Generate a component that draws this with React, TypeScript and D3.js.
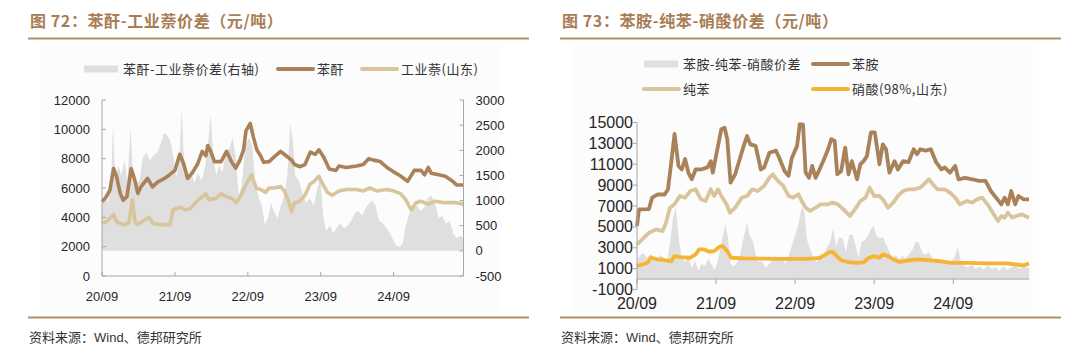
import React, { useEffect, useRef } from "react";
import * as d3 from "d3";

// x axis: months counted from 2020-09
const xTickMonths = [0, 12, 24, 36, 48];
const xTickLabels = ["20/09", "21/09", "22/09", "23/09", "24/09"];
const lastMonth = 59.5;

// Chart 72: 苯酐 / 工业萘(山东) / 价差(右轴)
const phthalic: [number, number][] = [
  [0, 5060], [0.7, 5400], [1.3, 5850], [1.9, 7330], [2.4, 6770], [3.0, 5630], [3.5, 5170],
  [4.1, 5400], [4.8, 7330], [5.4, 6540], [5.9, 5630], [6.4, 6080], [7.5, 6650], [8.3, 6080],
  [9.2, 6420], [10.3, 6650], [11.4, 7000], [12, 7200], [12.8, 8300], [13.4, 7700], [14.1, 6650],
  [14.8, 7000], [15.7, 7600], [16.5, 8500], [17.1, 8200], [17.4, 8900], [17.9, 8500], [18.5, 7800],
  [19.6, 7800], [20.5, 8500], [21.3, 7800], [22.0, 7350], [22.7, 7900], [23.3, 8600], [23.7, 9900],
  [24.4, 10400], [24.9, 9500], [25.5, 8600], [26.1, 8200], [26.6, 7750], [27.5, 7800], [28.3, 8100],
  [29.4, 8500], [30.3, 8200], [31.2, 7900], [31.7, 7600], [32.6, 7450], [33.4, 7600], [34.3, 8450],
  [35.1, 8300], [35.7, 8600], [36.5, 8100], [37.4, 7300], [38.5, 7200], [39.0, 7500], [40.2, 7400],
  [41.9, 7500], [43.0, 7600], [43.9, 8000], [44.7, 7900], [45.8, 7800], [46.9, 7400], [48.0, 7100],
  [49.2, 6800], [50.3, 6450], [51.4, 7200], [52.5, 7200], [53.1, 6900], [53.7, 7400], [54.2, 7000],
  [55.4, 6900], [56.5, 6800], [57.6, 6500], [58.4, 6200], [59.5, 6200],
];
const naphthalene: [number, number][] = [
  [0, 3600], [0.7, 3700], [1.9, 4200], [2.4, 3700], [3.5, 3500], [4.4, 3600], [5.0, 5200],
  [5.4, 3800], [5.8, 3500], [6.9, 3800], [7.8, 4000], [8.3, 3600], [9.7, 3500], [11.2, 3500],
  [11.7, 4500], [12.8, 4700], [13.7, 4500], [14.5, 4600], [15.4, 5000], [16.2, 5300], [17.1, 5600],
  [17.6, 5200], [18.8, 5300], [19.6, 5600], [20.5, 5400], [21.3, 5300], [22.1, 5000], [23.0, 5600],
  [23.8, 6300], [24.6, 6900], [25.4, 6000], [26.1, 5900], [26.9, 5700], [27.5, 6000], [28.3, 6000],
  [29.4, 6100], [30.0, 5800], [30.8, 5000], [31.2, 4400], [31.7, 5000], [32.6, 5100], [33.4, 5500],
  [34.3, 6300], [34.8, 6400], [35.7, 6800], [36.3, 6300], [37.1, 5700], [37.9, 5500], [39.0, 5800],
  [40.2, 5900], [41.9, 5900], [43.0, 5800], [44.1, 6000], [45.2, 5800], [46.9, 5900], [48.0, 5800],
  [49.2, 5600], [50.0, 5200], [50.9, 4500], [51.7, 5000], [52.5, 5100], [53.7, 4900], [54.8, 5100],
  [56.5, 5000], [58.2, 5000], [59.5, 4900],
];
const phthalicSpread: [number, number][] = [
  [0, 900], [0.5, 1150], [1, 950], [1.5, 1300], [1.8, 2500], [2.2, 1400], [2.7, 1700], [3.2, 1500],
  [3.7, 1800], [4.2, 1400], [4.7, 2440], [5.1, 1500], [5.6, 1350], [6.2, 1400], [6.7, 1850],
  [7.3, 1950], [7.9, 1800], [8.5, 1900], [9.1, 1950], [9.7, 2150], [10.2, 2350], [10.7, 2300],
  [11.2, 2200], [11.7, 1900], [12.3, 1450], [12.8, 2000], [13.1, 2830], [13.5, 1800], [14, 1400],
  [14.6, 1600], [15.2, 1350], [15.8, 1550], [16.4, 1400], [17, 1700], [17.5, 2200], [17.9, 2700],
  [18.3, 1900], [18.8, 1500], [19.3, 1700], [19.8, 1550], [20.4, 1950], [21, 2050], [21.5, 2250],
  [22, 1900], [22.5, 1100], [23, 1300], [23.6, 2100], [24.2, 2250], [24.7, 2100], [25.2, 1400],
  [25.8, 1050], [26.3, 900], [26.8, 520], [27.3, 650], [27.8, 950], [28.3, 780], [28.9, 650],
  [29.4, 880], [30, 1100], [30.5, 1500], [31, 2535], [31.4, 2200], [31.8, 1500], [32.4, 1400],
  [33, 1150], [33.6, 950], [34.2, 1050], [34.8, 900], [35.4, 1200], [35.9, 1500], [36.4, 700],
  [36.9, 400], [37.5, 500], [38.1, 350], [38.6, 450], [39.2, 550], [39.8, 450], [40.4, 500],
  [41, 600], [41.6, 750], [42.2, 800], [42.8, 700], [43.4, 850], [44, 950], [44.5, 1000], [45, 900],
  [45.6, 600], [46.2, 550], [46.8, 450], [47.4, 350], [48, 200], [48.5, 100], [49, 80], [49.5, 150],
  [50, 500], [50.6, 750], [51.2, 850], [51.8, 900], [52.4, 800], [53, 850], [53.6, 1050],
  [54.2, 1100], [54.8, 950], [55.4, 650], [56, 700], [56.6, 550], [57.2, 600], [57.8, 350],
  [58.4, 250], [59, 300], [59.5, 250],
];
const leftTicks72 = [0, 2000, 4000, 6000, 8000, 10000, 12000];
const rightTicks72 = [-500, 0, 500, 1000, 1500, 2000, 2500, 3000];

// Chart 73: 苯胺 / 纯苯 / 硝酸(98%,山东) / 价差
const aniline: [number, number][] = [
  [0, 5080], [0.3, 6680], [0.8, 6680], [1.8, 6700], [2.3, 7800], [3.1, 8100], [4.2, 8100],
  [4.7, 8600], [5.2, 11160], [5.7, 13900], [6.3, 10840], [6.8, 10500], [7.3, 11500], [7.8, 10200],
  [8.3, 9560], [8.9, 10500], [9.7, 10500], [10.7, 10700], [11.2, 11300], [11.5, 10200], [12, 11800],
  [12.8, 14360], [13.3, 14500], [13.7, 13400], [14.2, 9240], [14.9, 10040], [15.6, 11500],
  [16.2, 12760], [16.7, 13700], [17.2, 12900], [18, 12760], [18.8, 10500], [19.3, 10700],
  [20.1, 12100], [21.1, 12300], [21.6, 11600], [22.4, 10360], [23, 9900], [23.5, 11600],
  [24.3, 12760], [24.7, 14840], [25.2, 14800], [25.6, 10200], [26.1, 9700], [26.6, 10840],
  [27.1, 9700], [27.6, 10360], [28.4, 11500], [29, 12440], [29.5, 13400], [30, 13240], [30.4, 10040],
  [31, 10360], [31.6, 12600], [32.1, 10040], [32.6, 11300], [33.4, 9560], [33.9, 11000],
  [34.4, 11300], [34.9, 11800], [35.5, 14040], [36.1, 14040], [36.8, 11000], [37.3, 12900],
  [37.8, 12440], [38.3, 10200], [39.1, 11300], [39.6, 10500], [40.4, 11300], [41.2, 11200],
  [42, 12440], [42.5, 11960], [43, 12440], [43.8, 12300], [44.6, 12440], [45.4, 11200],
  [46.2, 10500], [46.7, 10700], [47.5, 10200], [48.3, 10840], [48.8, 9560], [49.8, 9700],
  [50.9, 9560], [51.9, 9400], [52.9, 9400], [53.7, 8440], [54.5, 7800], [55.3, 7160], [55.8, 7800],
  [56.3, 7160], [56.8, 8440], [57.4, 7160], [57.9, 7960], [58.7, 7640], [59.5, 7640],
];
const benzene: [number, number][] = [
  [0, 3320], [0.8, 3800], [1.8, 4440], [2.9, 4760], [3.9, 4600], [4.4, 5400], [5, 6840],
  [5.7, 7160], [6.5, 7960], [7.3, 7800], [8.1, 8440], [8.9, 8600], [9.7, 7640], [10.4, 7480],
  [11.2, 8600], [11.7, 7960], [12.3, 8600], [12.8, 7960], [13.6, 7160], [14.1, 6360], [14.9, 6840],
  [15.9, 7800], [16.7, 7960], [17.5, 8600], [18.3, 8440], [19.3, 8920], [20.1, 9720], [20.6, 10040],
  [21.4, 9400], [22.2, 8920], [23, 7960], [23.7, 7800], [24.5, 8120], [25, 7480], [25.6, 6840],
  [26.3, 6520], [27.1, 6840], [27.9, 7160], [29, 7160], [29.7, 7320], [30.5, 7160], [31.6, 6520],
  [32.3, 6040], [33.1, 6680], [33.9, 7480], [34.7, 7800], [35.3, 8760], [36, 7960], [36.8, 7960],
  [37.3, 7640], [38.1, 6840], [38.9, 7320], [39.6, 7960], [40.4, 8440], [41.2, 8600], [42, 8600],
  [43, 8760], [43.8, 9240], [44.3, 9560], [44.9, 9080], [45.6, 8600], [46.7, 8600], [47.5, 8280],
  [48.3, 7800], [49, 7160], [50.1, 7480], [50.9, 7320], [51.6, 7640], [52.4, 7800], [53.2, 7160],
  [54, 6360], [54.8, 5560], [55.3, 6040], [55.8, 5880], [56.3, 6360], [56.9, 5880], [57.6, 6040],
  [58.4, 6200], [59.5, 5880],
];
const nitric: [number, number][] = [
  [0, 1240], [0.8, 1400], [1.6, 1560], [2.1, 2040], [3.1, 1880], [4.4, 1800], [5.2, 1700],
  [5.7, 2200], [6.5, 2100], [8.1, 2040], [8.9, 2360], [9.4, 2840], [10.2, 2840], [11, 2620],
  [11.7, 2680], [12.5, 3100], [13, 3160], [13.7, 2680], [14.3, 2040], [16.4, 1980], [21.6, 1940],
  [25.8, 1940], [27.9, 2040], [29, 2520], [29.7, 2620], [30.3, 2200], [31, 1800], [32.3, 1600],
  [33.4, 1560], [34.4, 1600], [35.2, 2040], [36, 2200], [36.8, 2040], [37.3, 2360], [38.1, 2200],
  [38.9, 1880], [39.9, 1640], [41.2, 1800], [42.5, 1880], [44.6, 1800], [46.2, 1700], [47.7, 1560],
  [50.3, 1560], [52.9, 1500], [56.2, 1500], [58.7, 1300], [59.5, 1500],
];
const anilineSpread: [number, number][] = [
  [0, 1800], [0.5, 2300], [1, 2500], [1.5, 2000], [2, 2400], [2.5, 2200], [3, 1900], [3.5, 2300],
  [4, 2100], [4.5, 1500], [5, 3500], [5.5, 6000], [5.9, 6900], [6.3, 4000], [6.8, 2000], [7.3, 1600],
  [7.8, 2200], [8.3, 1000], [8.8, 1800], [9.3, 800], [9.8, 1500], [10.3, 1200], [10.8, 2000],
  [11.3, 1400], [11.8, 900], [12.3, 1800], [12.8, 3500], [13.4, 5200], [13.8, 4000], [14.2, 1500],
  [14.7, 1200], [15.2, 1600], [15.7, 2500], [16.2, 4000], [16.7, 5400], [17.1, 4200], [17.6, 3600],
  [18, 2400], [18.5, 1600], [19, 1700], [19.5, 1100], [20, 1400], [20.5, 1800], [21, 2200],
  [21.5, 1700], [22, 2000], [22.5, 1500], [23, 2200], [23.5, 3200], [24, 4200], [24.5, 5200],
  [25, 6900], [25.4, 6500], [25.8, 3800], [26.3, 2800], [26.8, 2000], [27.3, 1600], [27.8, 2500],
  [28.3, 1800], [28.8, 3000], [29.3, 3500], [29.8, 4900], [30.2, 3200], [30.7, 4000], [31.2, 3900],
  [31.7, 2600], [32.2, 4200], [32.7, 4300], [33.2, 3200], [33.6, 2000], [34.1, 3600], [34.6, 3700],
  [35.1, 4200], [35.5, 4800], [35.9, 5100], [36.3, 4200], [36.8, 3900], [37.3, 4000], [37.8, 3300],
  [38.2, 2800], [38.8, 2000], [39.3, 2300], [39.8, 1900], [40.3, 2200], [40.8, 2000], [41.3, 2400],
  [41.8, 2800], [42.3, 3600], [42.8, 3500], [43.3, 2500], [43.8, 2300], [44.3, 2600], [44.8, 2000],
  [45.3, 1700], [45.8, 1800], [46.3, 1600], [46.8, 1700], [47.3, 1500], [47.8, 1800], [48.3, 2200],
  [48.7, 3150], [49.1, 1800], [49.6, 1300], [50.2, 1100], [50.8, 1400], [51.4, 1000], [52, 1200],
  [52.6, 900], [53.2, 1300], [53.8, 1000], [54.4, 1100], [55, 800], [55.6, 1200], [56.2, 900],
  [56.8, 1100], [57.4, 1300], [58, 1000], [58.6, 1100], [59.5, 1100],
];
const ticks73 = [-1000, 1000, 3000, 5000, 7000, 9000, 11000, 13000, 15000];

/** Style variables. */
const brown = "#a9825a";
const tan = "#d9c59c";
const orange = "#f5b431";
const spreadGray = "#dfdfdf";
const titleColor = "#a87d53";
const ruleColor = "#b48d69";
const axisColor = "#a6a6a6";
const cjk = "'Noto Sans CJK SC', sans-serif";
const latin = "'Liberation Sans', Arial, sans-serif";

type Pt = [number, number];

/** Title, rules and source note shared by both panels. */
function drawFrame(svg: any, x0: number, x1: number, title: string) {
  svg.append("rect").attr("x", x0 + 12).attr("y", 44).attr("width", x1 - x0 - 40)
    .attr("height", 268).attr("fill", "#fcfcfc");
  svg.append("text").attr("x", x0 + 2).attr("y", 27).attr("fill", titleColor)
    .attr("font-family", cjk).attr("font-weight", "bold").attr("font-size", 16)
    .attr("letter-spacing", 0.6).text(title);
  svg.append("line").attr("x1", x0).attr("x2", x1).attr("y1", 38.5).attr("y2", 38.5)
    .attr("stroke", ruleColor).attr("stroke-width", 2);
  svg.append("line").attr("x1", x0).attr("x2", x1).attr("y1", 317.5).attr("y2", 317.5)
    .attr("stroke", ruleColor).attr("stroke-width", 2);
  const note = svg.append("text").attr("x", x0 + 1).attr("y", 342).attr("fill", "#333")
    .attr("font-size", 13).attr("font-family", cjk);
  note.append("tspan").text("资料来源：");
  note.append("tspan").attr("font-family", latin).text("Wind");
  note.append("tspan").text("、德邦研究所");
}

function legendItem(svg: any, x: number, y: number, color: string, label: string, isArea: boolean) {
  if (isArea) {
    svg.append("rect").attr("x", x).attr("y", y - 3.5).attr("width", 34).attr("height", 7).attr("fill", spreadGray);
  } else {
    svg.append("line").attr("x1", x).attr("x2", x + 35).attr("y1", y).attr("y2", y)
      .attr("stroke", color).attr("stroke-width", 4).attr("stroke-linecap", "round");
  }
  svg.append("text").attr("x", x + 39).attr("y", y + 4.5).attr("fill", "#333")
    .attr("font-family", cjk).attr("font-size", 13).attr("letter-spacing", 0.5).text(label);
}

function drawChart72(svg: any) {
  drawFrame(svg, 28, 529, "图 72：苯酐-工业萘价差（元/吨）");
  legendItem(svg, 84, 69, spreadGray, "苯酐-工业萘价差(右轴)", true);
  legendItem(svg, 278, 69, brown, "苯酐", false);
  legendItem(svg, 362, 69, tan, "工业萘(山东)", false);

  const plot = { left: 102, right: 463.5, top: 100, bottom: 276 };
  const x = d3.scaleLinear().domain([0, lastMonth]).range([plot.left, plot.right]);
  const yL = d3.scaleLinear().domain([0, 12000]).range([plot.bottom, plot.top]);
  const yR = d3.scaleLinear().domain([-500, 3000]).range([plot.bottom, plot.top]);

  const area = d3.area<Pt>().x((d) => x(d[0])).y0(yR(0)).y1((d) => yR(d[1]));
  svg.append("path").attr("d", area(phthalicSpread)).attr("fill", spreadGray);

  const line = d3.line<Pt>().x((d) => x(d[0])).y((d) => yL(d[1]));
  svg.append("path").attr("d", line(naphthalene)).attr("fill", "none").attr("stroke", tan)
    .attr("stroke-width", 3.6).attr("stroke-linejoin", "round");
  svg.append("path").attr("d", line(phthalic)).attr("fill", "none").attr("stroke", brown)
    .attr("stroke-width", 3.6).attr("stroke-linejoin", "round");

  // Axes
  const axes = svg.append("g").attr("stroke", axisColor).attr("stroke-width", 1);
  axes.append("line").attr("x1", plot.left).attr("x2", plot.left).attr("y1", plot.top).attr("y2", plot.bottom);
  axes.append("line").attr("x1", plot.right).attr("x2", plot.right).attr("y1", plot.top).attr("y2", plot.bottom);
  axes.append("line").attr("x1", plot.left).attr("x2", plot.right).attr("y1", plot.bottom).attr("y2", plot.bottom);
  axes.selectAll(".tl").data(leftTicks72).join("line")
    .attr("x1", plot.left).attr("x2", plot.left + 4).attr("y1", (d: number) => yL(d)).attr("y2", (d: number) => yL(d));
  axes.selectAll(".tr").data(rightTicks72).join("line")
    .attr("x1", plot.right - 4).attr("x2", plot.right).attr("y1", (d: number) => yR(d)).attr("y2", (d: number) => yR(d));
  axes.selectAll(".tb").data(xTickMonths).join("line")
    .attr("x1", (d: number) => x(d)).attr("x2", (d: number) => x(d)).attr("y1", plot.bottom - 4).attr("y2", plot.bottom);

  const labels = svg.append("g").attr("font-family", latin).attr("font-size", 13).attr("fill", "#262626");
  labels.selectAll(".ll").data(leftTicks72).join("text").attr("text-anchor", "end")
    .attr("x", plot.left - 12).attr("y", (d: number) => yL(d) + 4.5).text((d: number) => d);
  labels.selectAll(".lr").data(rightTicks72).join("text").attr("text-anchor", "start")
    .attr("x", plot.right + 12).attr("y", (d: number) => yR(d) + 4.5).text((d: number) => d);
  labels.selectAll(".lb").data(xTickMonths).join("text").attr("text-anchor", "middle")
    .attr("x", (d: number) => x(d)).attr("y", 301).text((d: number, i: number) => xTickLabels[i]);
}

function drawChart73(svg: any) {
  drawFrame(svg, 560, 1061, "图 73：苯胺-纯苯-硝酸价差（元/吨）");
  legendItem(svg, 644, 64, spreadGray, "苯胺-纯苯-硝酸价差", true);
  legendItem(svg, 813, 64, brown, "苯胺", false);
  legendItem(svg, 644, 89, tan, "纯苯", false);
  legendItem(svg, 813, 89, orange, "硝酸(98%,山东)", false);

  const plot = { left: 637, right: 1029, top: 122.5, bottom: 289.5 };
  const x = d3.scaleLinear().domain([0, lastMonth]).range([plot.left, plot.right]);
  const y = d3.scaleLinear().domain([-1000, 15000]).range([plot.bottom, plot.top]);

  const area = d3.area<Pt>().x((d) => x(d[0])).y0(y(0)).y1((d) => y(d[1]));
  svg.append("path").attr("d", area(anilineSpread)).attr("fill", spreadGray);

  const line = d3.line<Pt>().x((d) => x(d[0])).y((d) => y(d[1]));
  const series: [Pt[], string][] = [[benzene, tan], [aniline, brown], [nitric, orange]];
  series.forEach(([data, color]) => {
    svg.append("path").attr("d", line(data)).attr("fill", "none").attr("stroke", color)
      .attr("stroke-width", 3.8).attr("stroke-linejoin", "round");
  });

  const axes = svg.append("g").attr("stroke", axisColor).attr("stroke-width", 1);
  axes.append("line").attr("x1", plot.left).attr("x2", plot.left).attr("y1", plot.top).attr("y2", plot.bottom);
  axes.append("line").attr("x1", plot.left).attr("x2", plot.right).attr("y1", y(0)).attr("y2", y(0));
  axes.selectAll(".tl").data(ticks73).join("line")
    .attr("x1", plot.left - 4).attr("x2", plot.left).attr("y1", (d: number) => y(d)).attr("y2", (d: number) => y(d));
  axes.selectAll(".tb").data(xTickMonths).join("line")
    .attr("x1", (d: number) => x(d)).attr("x2", (d: number) => x(d)).attr("y1", y(0)).attr("y2", y(0) + 5);

  const labels = svg.append("g").attr("font-family", latin).attr("font-size", 16).attr("fill", "#262626");
  labels.selectAll(".ll").data(ticks73).join("text").attr("text-anchor", "end")
    .attr("x", plot.left - 4).attr("y", (d: number) => y(d) + 5.5).text((d: number) => d);
  labels.selectAll(".lb").data(xTickMonths).join("text").attr("text-anchor", "middle")
    .attr("x", (d: number) => x(d)).attr("y", 309).text((d: number, i: number) => xTickLabels[i]);
}

export default function App() {
  const ref = useRef<SVGSVGElement>(null);

  useEffect(() => {
    const svg = d3.select(ref.current);
    svg.selectAll("*").remove();
    svg.append("rect").attr("width", 1080).attr("height", 353).attr("fill", "#fff");
    drawChart72(svg);
    drawChart73(svg);
  }, []);

  return (
    <svg
      ref={ref}
      width={1080}
      height={353}
      style={{ position: "absolute", left: 0, top: 0, display: "block" }}
    />
  );
}
